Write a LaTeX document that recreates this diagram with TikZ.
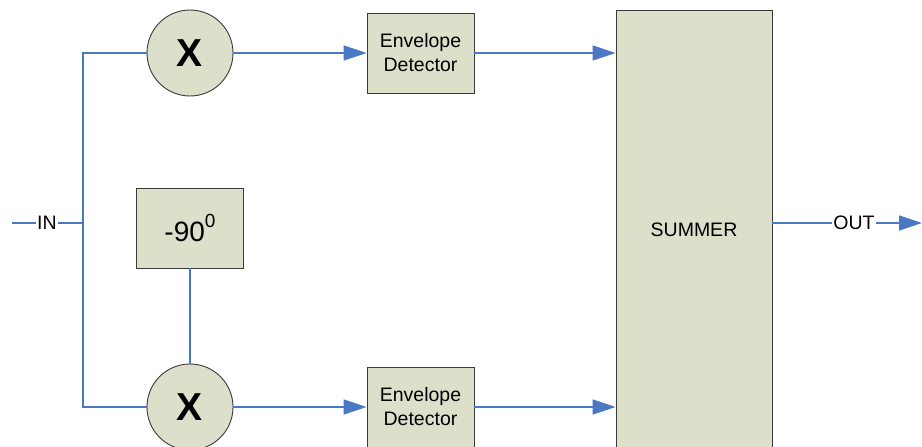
\documentclass[tikz,border=0pt]{standalone}
\usepackage{fontspec}
\setmainfont{Liberation Sans}
\usetikzlibrary{arrows.meta}
\definecolor{boxfill}{HTML}{DCDFCA}
\definecolor{boxline}{HTML}{3A3A3A}
\definecolor{wire}{HTML}{4A78C2}
\begin{document}
\begin{tikzpicture}[x=1pt,y=-1pt,
  blk/.style={draw=boxline,fill=boxfill,line width=0.9pt,rectangle,inner sep=0pt,align=center,
    font=\fontsize{19.5}{24}\selectfont},
  mix/.style={draw=boxline,fill=boxfill,line width=0.9pt,circle,minimum size=86pt,inner sep=0pt,
    font=\fontsize{39}{40}\selectfont\bfseries},
  lbl/.style={inner sep=1pt,font=\fontsize{19.5}{22}\selectfont},
  wirel/.style={draw=wire,line width=1.5pt},
  arr/.style={wirel,-{Triangle[length=23pt,width=15pt]}}]
\useasboundingbox (0,0) rectangle (922,447);
\fill[white] (0,0) rectangle (922,447);
\clip (0,0) rectangle (922,447);

\node[mix] (m1) at (190,53) {X};
\node[mix] (m2) at (190,407) {X};
\node[blk,minimum width=107pt,minimum height=80pt,font=\fontsize{28}{30}\selectfont] (ph) at (190,228) {-90\raisebox{0.95ex}{\fontsize{19}{20}\selectfont 0}};
\node[blk,minimum width=107pt,minimum height=80pt] (ed1) at (420.5,53) {Envelope\\Detector};
\node[blk,minimum width=107pt,minimum height=80pt] (ed2) at (420.5,407) {Envelope\\Detector};
\node[blk,minimum width=156pt,minimum height=440pt] (sum) at (694,230) {SUMMER};

\node[lbl] (in) at (47,223) {IN};
\node[lbl] (out) at (854,223) {OUT};
\coordinate (inS) at (12,223);
\coordinate (jm) at (83,223);
\coordinate (j1) at (83,53);
\coordinate (j2) at (83,407);
\coordinate (outE) at (922,223);

\draw[wirel] (inS) -- (in.west);
\draw[wirel] (in.east) -- (jm);
\draw[wirel] (m1.west) -- (j1) -- (j2) -- (m2.west);
\draw[wirel] (ph.south) -- (m2.north);
\draw[arr] (m1.east) -- (ed1.west);
\draw[arr] (m2.east) -- (ed2.west);
\draw[arr] (ed1.east) -- (ed1.east -| sum.west);
\draw[arr] (ed2.east) -- (ed2.east -| sum.west);
\draw[wirel] (sum.east |- out.west) -- (out.west);
\draw[arr] (out.east) -- (outE);
\end{tikzpicture}
\end{document}
